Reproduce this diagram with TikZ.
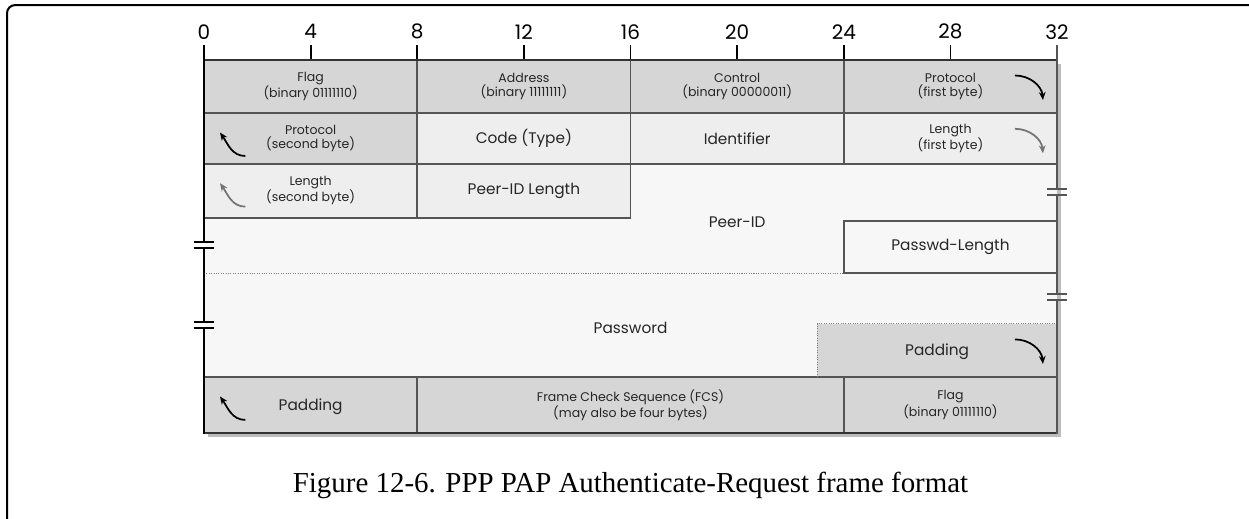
\documentclass[tikz,border=0pt]{standalone}
\usepackage{fontspec}
\setmainfont{Liberation Serif}
\newfontfamily\diagfont{Poppins}
\usetikzlibrary{arrows.meta}

\definecolor{cellgray}{HTML}{D6D6D6}
\definecolor{celllight}{HTML}{EEEEEE}
\definecolor{cellpale}{HTML}{F7F7F7}
\definecolor{rulegray}{HTML}{555555}
\definecolor{shadowgray}{HTML}{BDBDBD}

\begin{document}
\begin{tikzpicture}[x=20pt, y=-40pt,
    lbl/.style={font=\diagfont\fontsize{9.4}{10.6}\selectfont, align=center, text=black!85},
    biglbl/.style={font=\diagfont\fontsize{11.5}{13}\selectfont, text=black!85},
    ticklbl/.style={font=\diagfont\fontsize{15}{17}\selectfont},
    curl/.style={-{Stealth[length=6pt, width=5pt]}, line width=1.3pt},
    rule/.style={rulegray, line width=1.4pt},
    breakmark/.style={line width=1.5pt}]

    \useasboundingbox (-7.653,-1.1257) rectangle (39.2,8.593);

    % Outer frame
    \draw[line width=1.5pt, rounded corners=6pt] (-7.39,9) -- (-7.39,-1.03) -- (40,-1.03);

    % Shadow and cell fills
    \fill[shadowgray] (0.15,0.08) rectangle (32.15,7.07);
    \fill[cellpale] (0,0) rectangle (32,7);
    \fill[cellgray] (0,0) rectangle (32,1);
    \fill[cellgray] (0,1) rectangle (8,1.95);
    \fill[celllight] (8,1) rectangle (32,1.95);
    \fill[celllight] (0,1.95) rectangle (16,2.96);
    \fill[cellgray] (23,4.95) rectangle (32,5.95);
    \fill[cellgray] (0,5.95) rectangle (32,7);

    % Bit scale
    \foreach \b in {0,4,...,32} {
        \draw[line width=1.4pt] (\b,-0.28) -- (\b,0);
        \node[ticklbl] (tick\b) at (\b,-0.53) {\b};
    }

    % Field rules
    \draw[rule] (0,1) -- (32,1) (0,1.95) -- (32,1.95) (0,2.96) -- (16,2.96);
    \draw[rule] (8,0) -- (8,2.96) (16,0) -- (16,2.96) (24,0) -- (24,1.95);
    \draw[rule] (32,3.02) -- (24,3.02) -- (24,4) -- (32,4);
    \draw[rule] (0,5.95) -- (32,5.95) (8,5.95) -- (8,7) (24,5.95) -- (24,7);
    \draw[gray, densely dotted, line width=0.8pt] (0,4) -- (24,4);
    \draw[gray, densely dotted, line width=0.8pt] (23,5.95) -- (23,4.95) -- (32,4.95);
    \draw[black!80, line width=1.8pt] (0,0) -- (32,0) (0,7) -- (32,7);

    % Left and right borders with break marks
    \draw[line width=2.2pt] (0,-0.28) -- (0,3.415) (0,3.527) -- (0,4.915) (0,5.027) -- (0,7.02);
    \draw[rulegray, line width=2pt] (32,-0.28) -- (32,2.42) (32,2.53) -- (32,4.39) (32,4.5) -- (32,7.02);
    \foreach \y in {3.415,3.527,4.915,5.027} {
        \draw[breakmark] (-0.38,\y) -- (0.38,\y);
    }
    \foreach \y in {2.42,2.53,4.39,4.5} {
        \draw[breakmark, rulegray] (31.62,\y) -- (32.38,\y);
    }

    % Field labels
    \node[lbl] (flag) at (4,0.5) {Flag\\(binary 01111110)};
    \node[lbl] (address) at (12,0.5) {Address\\(binary 11111111)};
    \node[lbl] (control) at (20,0.5) {Control\\(binary 00000011)};
    \node[lbl] (protohi) at (28,0.5) {Protocol\\(first byte)};
    \node[lbl] (protolo) at (4,1.47) {Protocol\\(second byte)};
    \node[biglbl] (code) at (12,1.47) {Code (Type)};
    \node[biglbl] (ident) at (20,1.47) {Identifier};
    \node[lbl] (lenhi) at (28,1.47) {Length\\(first byte)};
    \node[lbl] (lenlo) at (4,2.45) {Length\\(second byte)};
    \node[biglbl] (peerlen) at (12,2.45) {Peer-ID Length};
    \node[biglbl] (peerid) at (20,3.04) {Peer-ID};
    \node[biglbl] (pwlen) at (28,3.5) {Passwd-Length};
    \node[biglbl] (passwd) at (16,5.03) {Password};
    \node[biglbl] (padhi) at (27.5,5.47) {Padding};
    \node[biglbl] (padlo) at (4,6.5) {Padding};
    \node[lbl] (fcs) at (16,6.47) {Frame Check Sequence (FCS)\\(may also be four bytes)};
    \node[lbl] (flagend) at (28,6.47) {Flag\\(binary 01111110)};

    % Byte carry-over curls
    \foreach \y/\c [count=\i] in {1/black, 1.95/black!55, 5.95/black} {
        \coordinate (lcurlfrom\i) at (1.55,\y+0.8);
        \coordinate (lcurlto\i) at (0.6,\y+0.36);
        \draw[curl, \c] (lcurlfrom\i) to[out=180, in=-55] (lcurlto\i);
    }
    \foreach \y/\c [count=\i] in {0/black, 1/black!55, 4.95/black} {
        \coordinate (rcurlfrom\i) at (30.42,\y+0.29);
        \coordinate (rcurlto\i) at (31.47,\y+0.75);
        \draw[curl, \c] (rcurlfrom\i) to[out=0, in=95] (rcurlto\i);
    }

    % Caption
    \node[font=\fontsize{21.7}{26}\selectfont] (caption) at (16,7.97) {Figure 12-6. PPP PAP Authenticate-Request frame format};
\end{tikzpicture}
\end{document}
